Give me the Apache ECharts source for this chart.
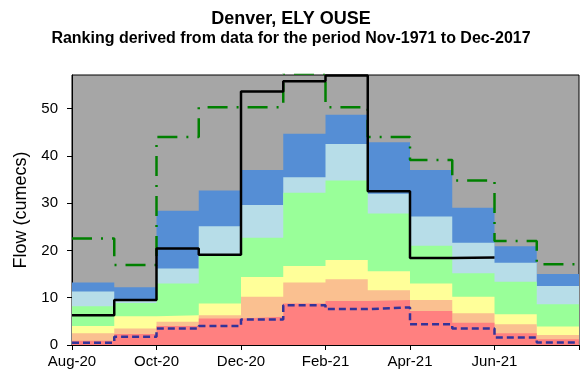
<!DOCTYPE html>
<html>
<head>
<meta charset="utf-8">
<script src="https://cdn.jsdelivr.net/npm/echarts@6/dist/echarts.min.js"></script>
<style>
  html, body { margin: 0; padding: 0; background: #ffffff; }
  #chart { width: 582px; height: 376px; }
</style>
</head>
<body>
<div id="chart"></div>
<script>
// Months shown (Aug-20 .. Jul-21), one step per month
const months = ['Aug-20','Sep-20','Oct-20','Nov-20','Dec-20','Jan-21','Feb-21','Mar-21','Apr-21','May-21','Jun-21','Jul-21'];
const tickLabels = ['Aug-20','Oct-20','Dec-20','Feb-21','Apr-21','Jun-21'];

// Upper edge of each ranking band (cumecs); everything above the top band is grey
const bandHigh      = [13.2, 12.2, 28.4, 32.7, 37.0, 44.7, 48.7, 42.9, 37.0, 29.0, 20.9, 15.0];
const bandAboveNorm = [11.3,  9.6, 16.2, 25.1, 29.6, 35.5, 42.5, 32.0, 27.2, 21.6, 17.4, 12.5];
const bandNormal    = [ 8.2,  8.9, 13.0, 19.0, 22.7, 32.2, 34.8, 27.8, 21.0, 15.2, 13.4,  8.6];
const bandBelowNorm = [ 4.0,  6.1,  6.3,  8.8, 14.4, 16.7, 18.0, 15.6, 13.0, 10.2,  6.5,  3.9];
const bandLow       = [ 2.5,  3.5,  4.9,  6.3, 10.2, 13.2, 13.9, 11.6,  9.5,  6.7,  4.4,  2.1];
const bandNotablyLow= [ 0.9,  2.3,  4.0,  5.6,  6.0,  8.8,  9.3,  9.5,  7.2,  4.7,  2.5,  1.2];

// Observed / projected flows
const observed  = [6.3, 9.5, 20.4, 19.1, 53.6, 55.8, 57.0, 32.5, 18.4, 18.5];
const maxFlow   = [22.5, 16.9, 44.0, 50.3, 50.3, 57.4, 50.3, 44.0, 39.1, 34.8, 22.0, 17.1];
const minFlow   = [0.5, 1.75, 3.5, 4.0, 5.4, 8.4, 7.6, 7.95, 4.4, 3.5, 1.6, 0.55];

// Turn monthly values into step points: month i spans [i, i+1]
function steps(vals) {
  const pts = vals.map((v, i) => [i, v]);
  pts.push([vals.length, vals[vals.length - 1]]);
  return pts;
}

function band(name, vals, color) {
  return {
    name: name, type: 'line', step: 'end', data: steps(vals),
    showSymbol: false, symbol: 'none', silent: true,
    lineStyle: { width: 0 },
    areaStyle: { color: color, opacity: 1 },
    z: 2
  };
}

function flowLine(name, vals, color, dash, width, z) {
  return {
    name: name, type: 'line', step: 'end', data: steps(vals),
    showSymbol: false, symbol: 'none', silent: true,
    lineStyle: { color: color, width: width, type: dash, cap: 'butt' },
    z: z
  };
}

const font = 'Liberation Sans, Arial, sans-serif';
const chart = echarts.init(document.getElementById('chart'), null, { renderer: 'canvas' });

chart.setOption({
  animation: false,
  backgroundColor: '#ffffff',
  title: [
    { text: 'Denver, ELY OUSE', left: 'center', top: 5,
      textStyle: { fontFamily: font, fontSize: 18, fontWeight: 'bold', color: '#000' } },
    { text: 'Ranking derived from data for the period Nov-1971 to Dec-2017', left: 'center', top: 26,
      textStyle: { fontFamily: font, fontSize: 16, fontWeight: 'bold', color: '#000' } }
  ],
  grid: {
    left: 72, top: 75, right: 0, bottom: 31,
    show: true, backgroundColor: '#a6a6a6', borderColor: '#000', borderWidth: 1
  },
  xAxis: {
    type: 'value', min: 0, max: 12, interval: 2,
    axisLine: { show: true, lineStyle: { color: '#000', width: 1 } },
    axisTick: { show: true, inside: false, length: 5, lineStyle: { color: '#000' } },
    axisLabel: {
      color: '#000', fontFamily: font, fontSize: 15, margin: 9,
      formatter: v => tickLabels[v / 2] || ''
    },
    splitLine: { show: false }
  },
  yAxis: {
    type: 'value', min: 0, max: 57.1, interval: 10,
    name: 'Flow (cumecs)', nameLocation: 'middle', nameGap: 42,
    nameTextStyle: { color: '#000', fontFamily: font, fontSize: 18 },
    axisLine: { show: true, lineStyle: { color: '#000', width: 1 } },
    axisTick: { show: true, inside: false, length: 5, lineStyle: { color: '#000' } },
    axisLabel: { color: '#000', fontFamily: font, fontSize: 15, margin: 14,
      showMaxLabel: false },
    splitLine: { show: false }
  },
  series: [
    band('High', bandHigh, '#558ed5'),
    band('Above normal', bandAboveNorm, '#b7dde8'),
    band('Normal', bandNormal, '#99ff99'),
    band('Below normal', bandBelowNorm, '#ffff99'),
    band('Low', bandLow, '#fac090'),
    band('Notably low', bandNotablyLow, '#ff8080'),
    flowLine('Maximum', maxFlow, '#008000', [20, 9, 2, 9], 2.5, 5),
    flowLine('Observed', observed, '#000000', 'solid', 2.5, 6),
    flowLine('Minimum', minFlow, '#333399', [7, 4], 2.5, 7)
  ]
});
</script>
</body>
</html>
